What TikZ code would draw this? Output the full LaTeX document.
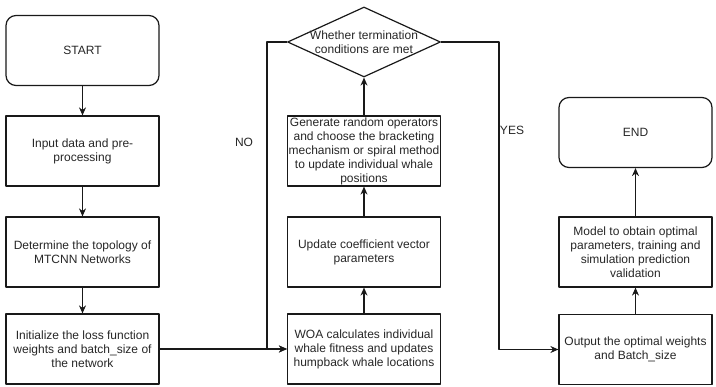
\documentclass[tikz,border=0pt]{standalone}
\usepackage{fontspec}
\setmainfont{Liberation Sans}
\usetikzlibrary{shapes.geometric,arrows.meta}
\tikzset{
  stepbox/.style={draw, minimum width=153, minimum height=70, inner sep=0pt, align=center},
  termbox/.style={stepbox, rounded corners=10pt},
  decision/.style={draw, diamond, minimum width=153, minimum height=70, inner sep=0pt},
}
\begin{document}
\begin{tikzpicture}[x=1pt,y=-1pt, font=\fontsize{12}{14}\selectfont, text=black!85, line join=round, >={Stealth[length=8pt,width=7pt]}, line width=1.2pt, draw=black!90]
\def \xa{82.5};
\def \xb{364};
\def \xc{635.5};
\useasboundingbox (0,0) rectangle (716,387);
% left column
\node[termbox] (start) at (\xa,50.5) {START};
\node[stepbox] (input) at (\xa,151) {Input data and pre-\\processing};
\node[stepbox] (topo) at (\xa,252) {Determine the topology of\\MTCNN Networks};
\node[stepbox] (init) at (\xa,349) {Initialize the loss function\\weights and batch\_size of\\the network};
% middle column
\node[stepbox] (woa) at (\xb,349) {WOA calculates individual\\whale fitness and updates\\humpback whale locations};
\node[stepbox] (coef) at (\xb,252) {Update coefficient vector\\parameters};
\node[stepbox] (gen) at (\xb,151) {Generate random operators\\and choose the bracketing\\mechanism or spiral method\\to update individual whale\\positions};
\node[decision] (cond) at (\xb,42) {};
\node[align=center] at (cond.center) {Whether termination\\conditions are met};
% right column
\node[stepbox] (output) at (\xc,349.5) {Output the optimal weights\\and Batch\_size};
\node[stepbox] (model) at (\xc,252) {Model to obtain optimal\\parameters, training and\\simulation prediction\\validation};
\node[termbox] (stop) at (\xc,132.5) {END};

\foreach \a/\b in {start/input,input/topo,topo/init}{\draw[->] (\a.south) -- (\b.north);}
\foreach \a/\b in {woa/coef,coef/gen,gen/cond,output/model,model/stop}{\draw[->] (\a.north) -- (\b.south);}
\draw[->] (init.east) -- (woa.west);

\coordinate (noturn) at (267,349);
\coordinate (yesturn) at (499,349.5);
\draw[->] (cond.west) -| (noturn) -- (woa.west);
\draw[->] (cond.east) -| (yesturn) -- (output.west);
\node (no) at (244,142) {NO};
\node (yes) at (512,130) {YES};
\end{tikzpicture}
\end{document}
